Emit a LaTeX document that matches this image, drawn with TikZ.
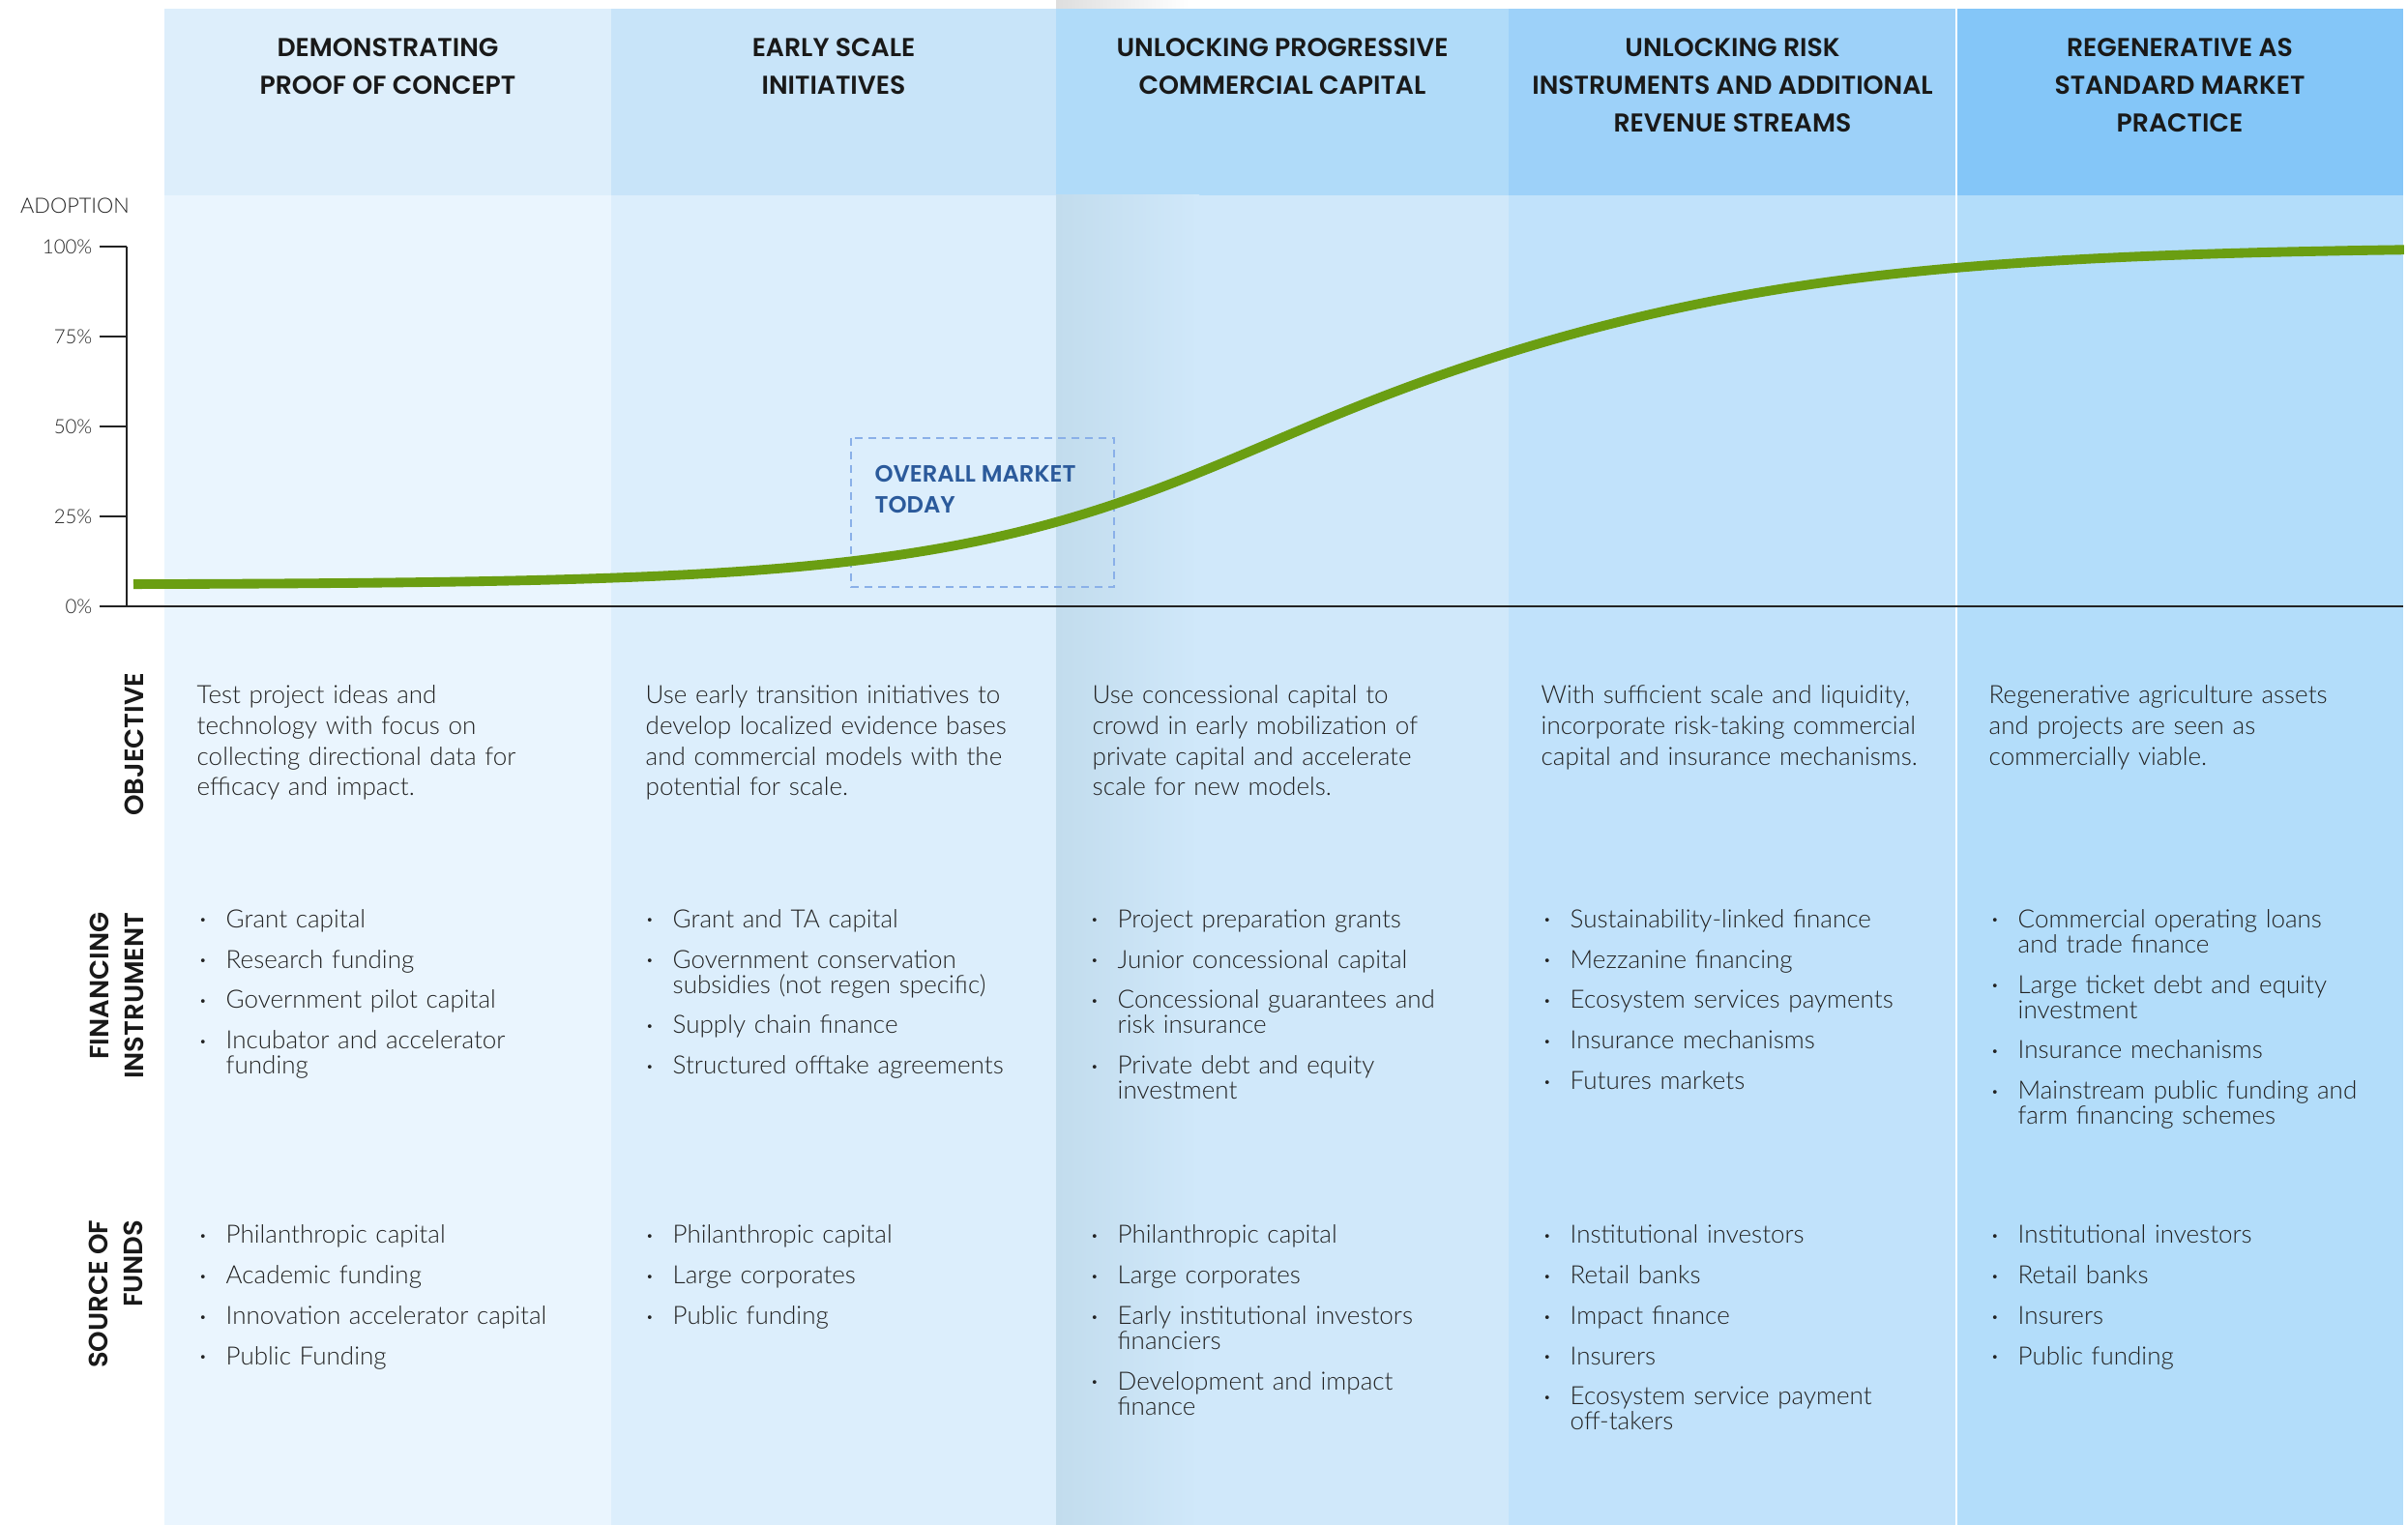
\documentclass[tikz,border=0pt]{standalone}
\usepackage{fontspec}
\usepackage{graphicx}
\usepackage{enumitem}
\IfFontExistsTF{Lato Light}{\setmainfont{Lato Light}}{\setmainfont{Lato}}
\IfFontExistsTF{Poppins SemiBold}{\newfontfamily\headfont{Poppins SemiBold}}{\newfontfamily\headfontbase{Poppins}\newcommand\headfont{\headfontbase\bfseries}}

\definecolor{hdA}{RGB}{221,238,251}
\definecolor{hdB}{RGB}{200,228,249}
\definecolor{hdC}{RGB}{176,219,249}
\definecolor{hdD}{RGB}{157,209,249}
\definecolor{hdE}{RGB}{132,198,248}
\definecolor{bdA}{RGB}{234,245,254}
\definecolor{bdB}{RGB}{220,238,252}
\definecolor{bdC}{RGB}{208,232,250}
\definecolor{bdD}{RGB}{193,226,251}
\definecolor{bdE}{RGB}{179,221,250}
\definecolor{shadegray}{RGB}{194,220,237}
\definecolor{curvegreen}{RGB}{106,158,18}
\definecolor{boxblue}{RGB}{138,176,232}
\definecolor{todayblue}{RGB}{43,90,155}
\definecolor{inkgray}{RGB}{35,35,35}

\newlist{fundlist}{itemize}{1}
\setlist[fundlist]{label={\strut\raisebox{0.25ex}{\scalebox{0.5}{\textbullet}}},leftmargin=0.33cm,labelsep=0.2cm,itemsep=4.5pt,topsep=0pt,parsep=0pt,partopsep=0pt}

\tikzset{
  phase/.style={font={\headfont\fontsize{7.6}{11.1}\selectfont},align=center,anchor=north,inner sep=0pt,text=black!90},
  rowlabel/.style={font={\headfont\fontsize{7.8}{10.4}\selectfont},align=right,rotate=90,anchor=east,inner sep=0pt,text=black!90},
  objtext/.style={font={\fontsize{7.4}{9}\selectfont\lineskiplimit=-10pt},align=left,anchor=north west,inner sep=0pt,text=inkgray,text width=4.3cm},
  listcell/.style={font={\fontsize{7.4}{7.4}\selectfont\lineskiplimit=-10pt},align=left,anchor=north west,inner sep=0pt,text=inkgray,text width=4.3cm},
  ticklabel/.style={font={\fontsize{5.8}{6}\selectfont},anchor=east,inner sep=0pt,text=inkgray},
  todaylabel/.style={font={\headfont\fontsize{6.9}{9.1}\selectfont},align=left,anchor=north west,inner sep=0pt,text=todayblue}
}

\begin{document}
\begin{tikzpicture}
\useasboundingbox (0,0) rectangle (24.90,15.77);
\fill[white] (0,0) rectangle (24.90,15.77);
\foreach \xa/\xb/\hc/\bc in {1.70/6.32/hdA/bdA, 6.32/10.92/hdB/bdB, 10.92/15.60/hdC/bdC, 15.60/20.23/hdD/bdD, 20.23/24.85/hdE/bdE}
{
\fill[\bc] (\xa,0) rectangle (\xb,13.75);
\fill[\hc] (\xa,13.75) rectangle (\xb,15.68);
}
\shade[left color=shadegray, right color=bdC] (10.92,0) rectangle (12.40,13.75);
\shade[left color=black!13, right color=white] (10.92,15.68) rectangle (12.30,15.77);
\draw[white, line width=0.6pt] (20.23,0) -- (20.23,15.68);

\node[phase] (phaseA) at (4.01,15.38) {DEMONSTRATING\\PROOF OF CONCEPT};
\node[phase] (phaseB) at (8.62,15.38) {EARLY SCALE\\INITIATIVES};
\node[phase] (phaseC) at (13.26,15.38) {UNLOCKING PROGRESSIVE\\COMMERCIAL CAPITAL};
\node[phase] (phaseD) at (17.915,15.38) {UNLOCKING RISK\\INSTRUMENTS AND ADDITIONAL\\REVENUE STREAMS};
\node[phase] (phaseE) at (22.54,15.38) {REGENERATIVE AS\\STANDARD MARKET\\PRACTICE};

\node[font={\fontsize{6.2}{7}\selectfont}, text=inkgray, inner sep=0pt] (adoption) at (0.775,13.64) {ADOPTION};
\draw[inkgray, line width=0.45pt] (1.31,13.22) -- (1.31,9.50);
\foreach \p/\y in {0/9.50, 25/10.43, 50/11.36, 75/12.29, 100/13.22}
{
\draw[inkgray, line width=0.45pt] (1.03,\y) -- (1.31,\y);
\node[ticklabel] (tick\p) at (0.96,\y) {\p\%};
}
\draw[inkgray, line width=0.6pt] (1.03,9.50) -- (24.85,9.50);

\draw[boxblue, line width=0.6pt, dash pattern=on 0.8mm off 0.6mm] (8.80,11.24) rectangle (11.52,9.70);
\node[todaylabel] (today) at (9.04,10.96) {OVERALL MARKET\\TODAY};

\draw[curvegreen, line width=2.8pt] plot[domain=1.38:24.86, samples=140, smooth] (\x, {9.50+0.0372*(6+94/(1+exp(-(0.47-0.05*tanh((\x-13.8)/2))*(\x-13.8))))});

\node[rowlabel] (objlabel) at (1.39,8.82) {OBJECTIVE};
\node[rowlabel] (finlabel) at (1.21,6.34) {FINANCING\\INSTRUMENT};
\node[rowlabel] (srclabel) at (1.20,3.16) {SOURCE OF\\FUNDS};

\node[objtext] (objA) at (2.03,8.72) {\strut Test project ideas and\\technology with focus on\\collecting directional data for\\efficacy and impact.};
\node[objtext] (objB) at (6.67,8.72) {\strut Use early transition initiatives to\\develop localized evidence bases\\and commercial models with the\\potential for scale.};
\node[objtext] (objC) at (11.29,8.72) {\strut Use concessional capital to\\crowd in early mobilization of\\private capital and accelerate\\scale for new models.};
\node[objtext] (objD) at (15.93,8.72) {\strut With sufficient scale and liquidity,\\incorporate risk-taking commercial\\capital and insurance mechanisms.};
\node[objtext] (objE) at (20.56,8.72) {\strut Regenerative agriculture assets\\and projects are seen as\\commercially viable.};

\node[listcell] (finA) at (2.00,6.445) {\begin{fundlist}\item Grant capital \item Research funding \item Government pilot capital \item Incubator and accelerator\\funding\end{fundlist}};
\node[listcell] (finB) at (6.62,6.445) {\begin{fundlist}\item Grant and TA capital \item Government conservation\\subsidies (not regen specific) \item Supply chain finance \item Structured offtake agreements\end{fundlist}};
\node[listcell] (finC) at (11.22,6.445) {\begin{fundlist}\item Project preparation grants \item Junior concessional capital \item Concessional guarantees and\\risk insurance \item Private debt and equity\\investment\end{fundlist}};
\node[listcell] (finD) at (15.90,6.445) {\begin{fundlist}\item Sustainability-linked finance \item Mezzanine financing \item Ecosystem services payments \item Insurance mechanisms \item Futures markets\end{fundlist}};
\node[listcell] (finE) at (20.53,6.445) {\begin{fundlist}\item Commercial operating loans\\and trade finance \item Large ticket debt and equity\\investment \item Insurance mechanisms \item Mainstream public funding and\\farm financing schemes\end{fundlist}};

\node[listcell] (srcA) at (2.00,3.18) {\begin{fundlist}\item Philanthropic capital \item Academic funding \item Innovation accelerator capital \item Public Funding\end{fundlist}};
\node[listcell] (srcB) at (6.62,3.18) {\begin{fundlist}\item Philanthropic capital \item Large corporates \item Public funding\end{fundlist}};
\node[listcell] (srcC) at (11.22,3.18) {\begin{fundlist}\item Philanthropic capital \item Large corporates \item Early institutional investors\\financiers \item Development and impact\\finance\end{fundlist}};
\node[listcell] (srcD) at (15.90,3.18) {\begin{fundlist}\item Institutional investors \item Retail banks \item Impact finance \item Insurers \item Ecosystem service payment\\off-takers\end{fundlist}};
\node[listcell] (srcE) at (20.53,3.18) {\begin{fundlist}\item Institutional investors \item Retail banks \item Insurers \item Public funding\end{fundlist}};
\end{tikzpicture}
\end{document}
